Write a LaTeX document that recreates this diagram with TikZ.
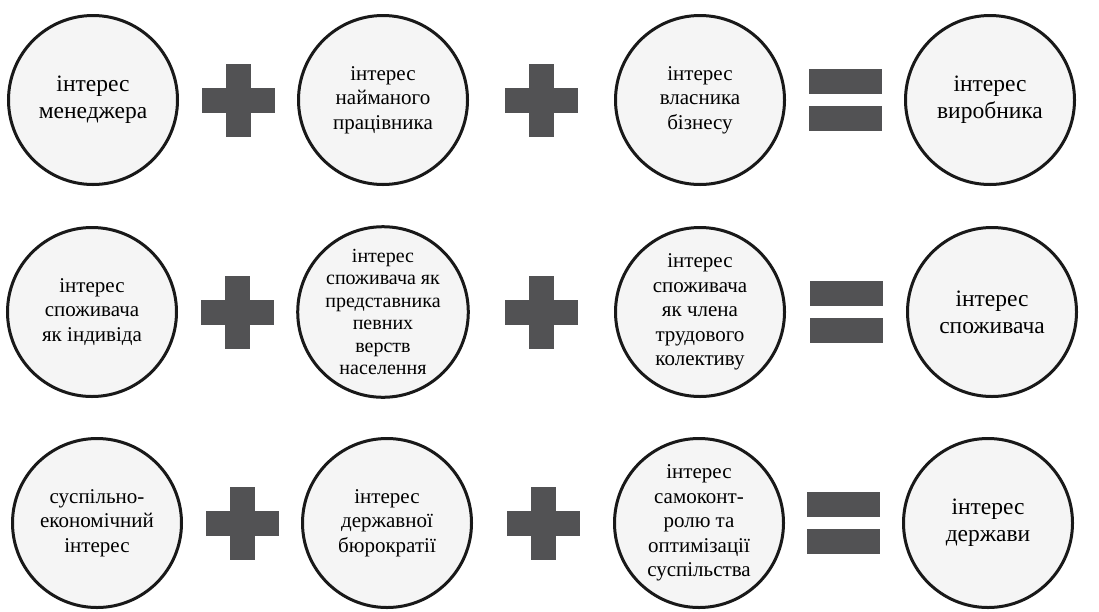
\documentclass[tikz,border=0pt]{standalone}
\usepackage{fontspec}
\setmainfont{Liberation Serif}
\usetikzlibrary{positioning}
\usetikzlibrary{calc}

\definecolor{signgray}{HTML}{525254}
\definecolor{ringfill}{HTML}{F5F5F5}

\tikzset{
  ring/.style={circle, draw=black!90, line width=3pt, fill=ringfill,
    minimum size=169pt, inner sep=0pt, align=center, text=black},
  bigtxt/.style={font=\fontsize{23.5}{27}\selectfont},
  midtxt/.style={font=\fontsize{21}{24.5}\selectfont},
  smalltxt/.style={font=\fontsize{20}{22.5}\selectfont},
}

\begin{document}
\begin{tikzpicture}[x=1pt,y=-1pt]
  \useasboundingbox (0,0) rectangle (1099,611);

	%draw circles
 \def\dy{100};
    \foreach \i/\x/\st/\txt in { 1/93/bigtxt/{інтерес\\менеджера}, 2/383/midtxt/{інтерес\\найманого\\працівника},
                             3/700/midtxt/{інтерес\\власника\\бізнесу}, 4/990/bigtxt/{інтерес\\виробника}}{
         \node[ring,\st] (a\i) at (\x, \dy) {\txt};
    }

 \def\dy{312};
    \foreach \i/\x/\st/\txt in { 1/92/midtxt/{інтерес\\споживача\\як індивіда},
                             2/383/smalltxt/{інтерес\\споживача як\\представника\\певних\\верств\\населення},
                             3/700/midtxt/{інтерес\\споживача\\як члена\\трудового\\колективу},
                             4/992/bigtxt/{інтерес\\споживача}}{
         \node[ring,\st] (b\i) at (\x, \dy) {\txt};
    }

 \def\dy{523};
    \foreach \i/\x/\st/\txt in { 1/97/midtxt/{суспільно-\\економічний\\інтерес}, 2/387/midtxt/{інтерес\\державної\\бюрократії},
                             3/699/midtxt/{інтерес\\самоконт-\\ролю та\\оптимізації\\суспільства}, 4/988/bigtxt/{інтерес\\держави}}{
         \node[ring,\st] (c\i) at (\x, \dy) {\txt};
    }

%draw plus and equal signs
 \def\sw{36.5};
 \def\sb{12.5};
    \foreach \row in {a,b,c}{
         \coordinate (\row p1) at ($(\row1)!0.5!(\row2)$);
         \coordinate (\row p2) at ($(\row2)!0.5!(\row3)$);
         \coordinate (\row eq) at ($(\row3)!0.5!(\row4)$);
         \foreach \p in {p1,p2}{
             \fill[signgray] ([shift={(-\sw,-\sb)}]\row\p) rectangle ([shift={(\sw,\sb)}]\row\p);
             \fill[signgray] ([shift={(-\sb,-\sw)}]\row\p) rectangle ([shift={(\sb,\sw)}]\row\p);
         }
         \fill[signgray] ([shift={(-\sw,-31)}]\row eq) rectangle ([shift={(\sw,-6)}]\row eq);
         \fill[signgray] ([shift={(-\sw,6)}]\row eq) rectangle ([shift={(\sw,31)}]\row eq);
    }

\end{tikzpicture}
\end{document}
